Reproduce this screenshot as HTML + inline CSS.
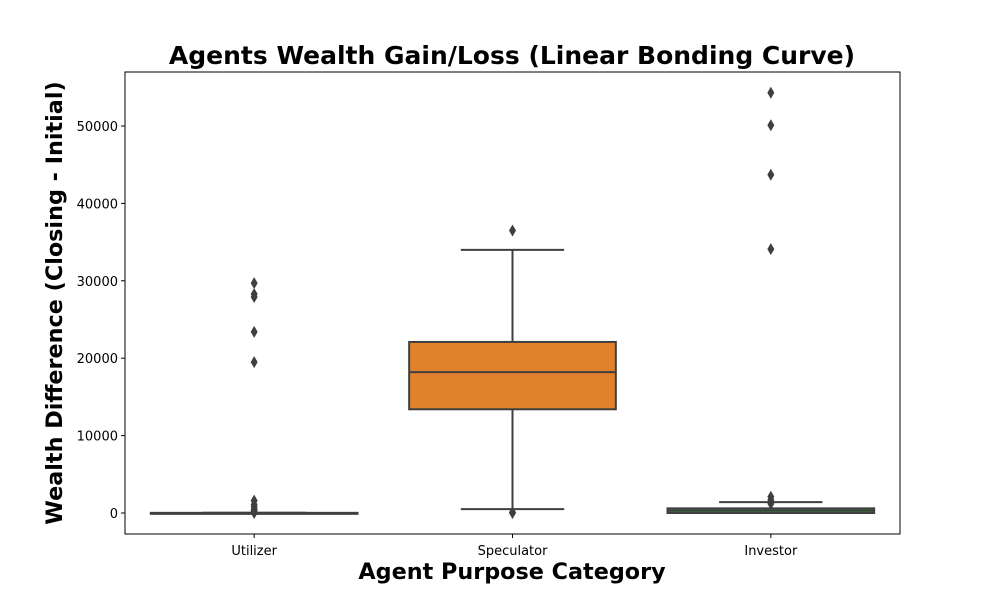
<!DOCTYPE html>
<html><head><meta charset="utf-8"><style>
body{margin:0;background:#fff;font-family:"DejaVu Sans",sans-serif}
svg text{font-family:"DejaVu Sans",sans-serif}
</style></head><body>
<svg id="chart" width="1000" height="600"></svg>
<script>
const categories=["Utilizer","Speculator","Investor"];
const q1=[0,13400,0];
const medians=[0,18200,300];
const q3=[20,22100,600];
const whiskLow=[0,500,0];
const whiskHigh=[30,34000,1400];
const outliers=[[0,150,300,500,800,1100,1600,19500,23400,27900,28300,29700],[0,100,36500],[1200,1700,2100,34100,43700,50100,54300]];
const yTicks=[0,10000,20000,30000,40000,50000];
const colors=["#3274a1","#e1812c","#3a923a"];
const L=125,R=900,T=72,B=534;
const y=v=>513-v*(387/50000);
const bw=(R-L)/3;
const xc=i=>L+bw*(i+0.5);
const svg=document.getElementById('chart');const NS='http://www.w3.org/2000/svg';
function mk(t,a,p){const e=document.createElementNS(NS,t);for(const k in a)e.setAttribute(k,a[k]);(p||svg).appendChild(e);return e;}
let e=mk('text',{x:512,y:64,'text-anchor':'middle','font-size':25,'font-weight':'bold'});e.textContent='Agents Wealth Gain/Loss (Linear Bonding Curve)';


yTicks.forEach(t=>{const g=mk('g',{});


mk('line',{x1:L-4,x2:L,y1:y(t),y2:y(t),stroke:'#000'},g);
const tx=mk('text',{x:L-7,y:y(t)+5,'text-anchor':'end','font-size':13},g);tx.textContent=t;});
categories.forEach((c,i)=>{const g=mk('g',{});


const x=xc(i),w=bw*0.8,hw=w/2;
mk('line',{x1:x,x2:x,y1:y(q3[i]),y2:y(whiskHigh[i]),stroke:'#3f3f3f','stroke-width':2},g);
mk('line',{x1:x,x2:x,y1:y(q1[i]),y2:y(whiskLow[i]),stroke:'#3f3f3f','stroke-width':2},g);
mk('line',{x1:x-w/4,x2:x+w/4,y1:y(whiskHigh[i]),y2:y(whiskHigh[i]),stroke:'#3f3f3f','stroke-width':2},g);
mk('line',{x1:x-w/4,x2:x+w/4,y1:y(whiskLow[i]),y2:y(whiskLow[i]),stroke:'#3f3f3f','stroke-width':2},g);
mk('rect',{x:x-hw,y:y(q3[i]),width:w,height:Math.max(1,y(q1[i])-y(q3[i])),fill:colors[i],stroke:'#3f3f3f','stroke-width':2},g);
mk('line',{x1:x-hw,x2:x+hw,y1:y(medians[i]),y2:y(medians[i]),stroke:'#3f3f3f','stroke-width':2},g);
outliers[i].forEach(v=>{const p=mk('path',{d:`M${x} ${y(v)-6}L${x+3.5} ${y(v)}L${x} ${y(v)+6}L${x-3.5} ${y(v)}Z`,fill:'#3f3f3f'},g);

});
mk('line',{x1:x,x2:x,y1:B,y2:B+4,stroke:'#000'},g);
const tx=mk('text',{x:x,y:B+21,'text-anchor':'middle','font-size':13},g);tx.textContent=c;});
e=mk('rect',{x:L,y:T,width:R-L,height:B-T,fill:'none',stroke:'#000','stroke-width':1});


e=mk('text',{x:512,y:579,'text-anchor':'middle','font-size':22.3,'font-weight':'bold'});e.textContent='Agent Purpose Category';


e=mk('text',{x:0,y:0,'text-anchor':'middle','font-size':22.3,'font-weight':'bold',transform:'translate(62,303) rotate(-90)'});e.textContent='Wealth Difference (Closing - Initial)';


</script>
</body></html>
